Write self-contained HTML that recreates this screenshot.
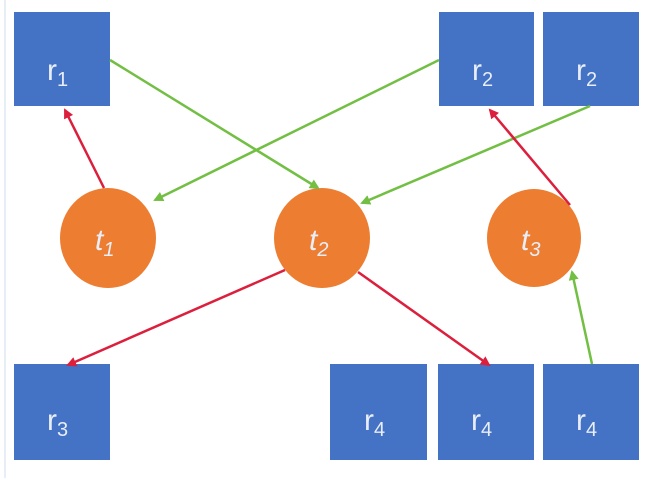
<!DOCTYPE html>
<html><head><style>
body{margin:0;background:#fff;}
svg{display:block}
text{font-family:"Liberation Sans",sans-serif;fill:#e8eef8;}
</style></head><body>
<svg width="656" height="478" viewBox="0 0 656 478" xmlns="http://www.w3.org/2000/svg">
<defs>
<marker id="g" markerWidth="10" markerHeight="10" refX="8" refY="5" orient="auto" markerUnits="userSpaceOnUse"><path d="M0,0 L10,5 L0,10 z" fill="#72bf44"/></marker>
<marker id="r" markerWidth="10" markerHeight="10" refX="8" refY="5" orient="auto" markerUnits="userSpaceOnUse"><path d="M0,0 L10,5 L0,10 z" fill="#dc1f3c"/></marker>
</defs>
<rect x="0" y="0" width="656" height="478" fill="#fff"/>
<line x1="5" y1="0" x2="5" y2="478" stroke="#e8eef5" stroke-width="2"/>
<g fill="#4472c4">
<rect x="14" y="12" width="96" height="94"/>
<rect x="439" y="12" width="95" height="94"/>
<rect x="543" y="12" width="96" height="94"/>
<rect x="14" y="364" width="96" height="96"/>
<rect x="330" y="364" width="97" height="96"/>
<rect x="438" y="364" width="96" height="96"/>
<rect x="543" y="364" width="96" height="96"/>
</g>
<g fill="#ed7d31">
<ellipse cx="108" cy="238" rx="48" ry="50"/>
<ellipse cx="322" cy="238" rx="48" ry="50"/>
<ellipse cx="534" cy="238" rx="47" ry="49"/>
</g>
<g stroke-width="2.5" fill="none">
<line x1="110" y1="60" x2="318" y2="188" stroke="#72bf44" marker-end="url(#g)"/>
<line x1="439" y1="60" x2="155" y2="200" stroke="#72bf44" marker-end="url(#g)"/>
<line x1="590" y1="106" x2="362" y2="203" stroke="#72bf44" marker-end="url(#g)"/>
<line x1="592" y1="364" x2="572" y2="272" stroke="#72bf44" marker-end="url(#g)"/>
<line x1="104" y1="188" x2="65" y2="110" stroke="#dc1f3c" marker-end="url(#r)"/>
<line x1="570" y1="205" x2="490" y2="110" stroke="#dc1f3c" marker-end="url(#r)"/>
<line x1="285" y1="270" x2="68" y2="365" stroke="#dc1f3c" marker-end="url(#r)"/>
<line x1="358" y1="272" x2="489" y2="365" stroke="#dc1f3c" marker-end="url(#r)"/>
</g>
<g font-size="30">
<text x="47" y="80">r<tspan font-size="20" dy="6">1</tspan></text>
<text x="472" y="80">r<tspan font-size="20" dy="6">2</tspan></text>
<text x="576" y="80">r<tspan font-size="20" dy="6">2</tspan></text>
<text x="47" y="430">r<tspan font-size="20" dy="6">3</tspan></text>
<text x="364" y="430">r<tspan font-size="20" dy="6">4</tspan></text>
<text x="471" y="430">r<tspan font-size="20" dy="6">4</tspan></text>
<text x="576" y="430">r<tspan font-size="20" dy="6">4</tspan></text>
<text x="95" y="250" font-style="italic">t<tspan font-size="20" dy="6">1</tspan></text>
<text x="309" y="250" font-style="italic">t<tspan font-size="20" dy="6">2</tspan></text>
<text x="521" y="250" font-style="italic">t<tspan font-size="20" dy="6">3</tspan></text>
</g>
</svg>
</body></html>
